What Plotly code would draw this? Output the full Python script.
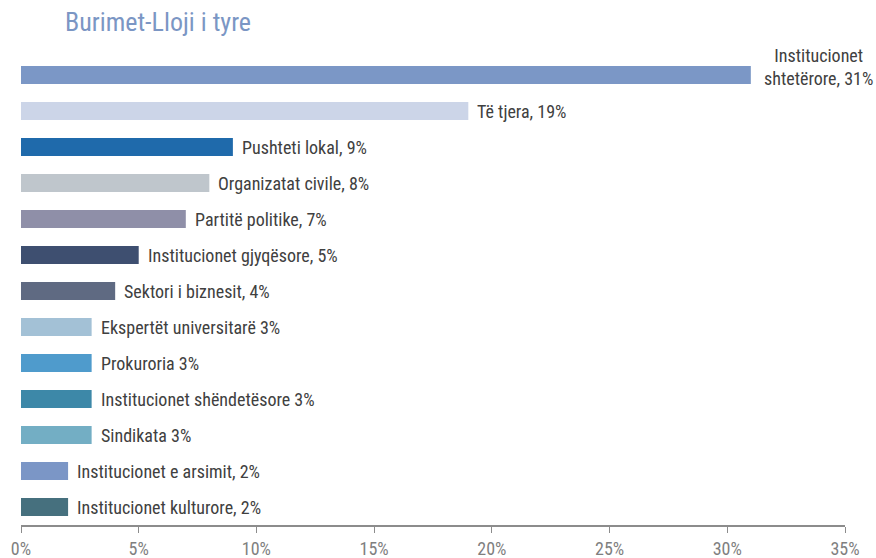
import plotly.graph_objects as go

categories = [
    "Institucionet<br>shtetërore, 31%",
    "Të tjera, 19%",
    "Pushteti lokal, 9%",
    "Organizatat civile, 8%",
    "Partitë politike, 7%",
    "Institucionet gjyqësore, 5%",
    "Sektori i biznesit, 4%",
    "Ekspertët universitarë 3%",
    "Prokuroria 3%",
    "Institucionet shëndetësore 3%",
    "Sindikata 3%",
    "Institucionet e arsimit, 2%",
    "Institucionet kulturore, 2%",
]
values = [31, 19, 9, 8, 7, 5, 4, 3, 3, 3, 3, 2, 2]
colors = ["#7b97c6", "#ccd5e8", "#1f6aab", "#bfc6cc", "#8f8fa8", "#3e4f70", "#5f6a82",
          "#a3c1d6", "#4f9bcc", "#3d88a8", "#73aec4", "#7b96c6", "#46707e"]
tick_vals = [0, 5, 10, 15, 20, 25, 30, 35]
tick_text = ["0%", "5%", "10%", "15%", "20%", "25%", "30%", "35%"]

FONT = "Roboto Condensed, DejaVu Sans Condensed, sans-serif"
ids = list(range(len(categories)))

fig = go.Figure(go.Bar(
    x=values, y=ids, orientation="h",
    marker=dict(color=colors, line=dict(width=0)),
    width=0.5, hoverinfo="skip",
))

for i, (lab, v) in enumerate(zip(categories, values)):
    if i == 0:
        fig.add_annotation(x=v, y=i, text=lab, showarrow=False, xanchor="center",
                           yanchor="middle", xshift=68, yshift=8, align="center",
                           font=dict(family=FONT, size=18, color="#404040"))
    else:
        fig.add_annotation(x=v, y=i, text=lab, showarrow=False, xanchor="left",
                           yanchor="middle", xshift=7,
                           font=dict(family=FONT, size=18, color="#404040"))

fig.update_layout(
    width=876, height=558,
    margin=dict(l=21, r=31, t=57, b=33, autoexpand=False),
    paper_bgcolor="white", plot_bgcolor="white",
    showlegend=False,
    title=dict(text="Burimet-Lloji i tyre", x=65/876, xanchor="left", y=1 - 22/558,
               yanchor="middle", font=dict(family=FONT, size=26, color="#7b96c4")),
    xaxis=dict(range=[0, 35], tickvals=tick_vals, ticktext=tick_text, automargin=False,
               showgrid=False, zeroline=False, showline=True, linecolor="#8c8c8c",
               linewidth=2, ticks="outside", ticklen=6, tickcolor="#8c8c8c", tickwidth=1,
               tickfont=dict(family=FONT, size=18, color="#7f7f7f")),
    yaxis=dict(range=[12.5, -0.5], showticklabels=False, showgrid=False, automargin=False,
               zeroline=False, showline=False, ticks=""),
)

fig.write_html("out.html", config={"displayModeBar": False},
               post_script="document.body.style.margin='0';document.body.style.overflow='hidden';")
